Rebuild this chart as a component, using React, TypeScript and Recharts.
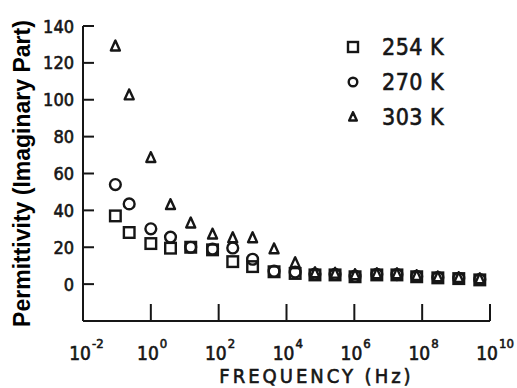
import { ScatterChart, Scatter, XAxis, YAxis, Legend } from 'recharts'

const frequency = [0.09, 0.23, 1, 3.8, 15, 66, 260, 1000, 4300, 18000, 69000, 2.7e5, 1.05e6, 4.6e6, 1.8e7, 6.9e7, 2.9e8, 1.2e9, 5e9]
// imaginary permittivity per temperature
const eps254 = [37, 28, 22, 19.5, 20, 18.6, 12.2, 9.5, 6.7, 5.8, 5, 5, 4, 5, 5, 4, 3.4, 3, 2.3]
const eps270 = [54, 43.5, 30, 25.5, 20, 19, 19.6, 13.5, 7, 6.5, 5.5, 5.3, 4.3, 5.3, 5.2, 4.2, 3.6, 3.2, 2.5]
const eps303 = [129, 102.5, 68.5, 43, 33, 27, 25, 25, 19, 11.5, 6, 5.8, 5, 5.5, 5.5, 4.5, 3.8, 3.4, 2.8]

const xTicks = [1e-2, 1, 1e2, 1e4, 1e6, 1e8, 1e10]
const yTicks = [0, 20, 40, 60, 80, 100, 120, 140]

const INK = '#161616'
const NUM_FONT = "'Liberation Sans Narrow', 'DejaVu Sans Condensed', 'Liberation Sans', sans-serif"

const toPoints = (vals: number[]) => frequency.map((f, i) => ({ x: f, y: vals[i] }))

const squareAt = (cx: number, cy: number, s = 5.3) => (
  <rect x={cx - s} y={cy - s} width={s * 2} height={s * 2} fill="none" stroke={INK} strokeWidth={2.4} />
)
const circleAt = (cx: number, cy: number, r = 5.4) => (
  <circle cx={cx} cy={cy} r={r} fill="none" stroke={INK} strokeWidth={2.4} />
)
const triangleAt = (cx: number, cy: number, s = 1) => (
  <polygon
    points={`${cx},${cy - 5.7 * s} ${cx - 4.5 * s},${cy + 4.2 * s} ${cx + 4.5 * s},${cy + 4.2 * s}`}
    fill="none"
    stroke={INK}
    strokeWidth={2.4}
    strokeLinejoin="round"
  />
)

const series = [
  { name: '254 K', data: toPoints(eps254), icon: (x: number, y: number) => squareAt(x, y, 5) },
  { name: '270 K', data: toPoints(eps270), icon: (x: number, y: number) => circleAt(x, y, 4.3) },
  { name: '303 K', data: toPoints(eps303), icon: (x: number, y: number) => triangleAt(x, y, 0.85) },
]

const heavy = { stroke: INK, strokeWidth: 0.6 }

const XTick = (props: any) => {
  const { x, y, payload } = props
  const exp = Math.round(Math.log10(payload.value))
  return (
    <g>
      <line x1={x} x2={x} y1={y} y2={y - 17} stroke={INK} strokeWidth={2} />
      <text x={x + 8} y={y + 39} textAnchor="end" fontSize={19} fontFamily={NUM_FONT} fill={INK} {...heavy}>10</text>
      <text x={x + 9} y={y + 27} fontSize={13} fontFamily={NUM_FONT} fill={INK} {...heavy}>{exp}</text>
    </g>
  )
}

const YTick = (props: any) => {
  const { x, y, payload } = props
  return (
    <g>
      <line x1={x} x2={x + 11} y1={y} y2={y} stroke={INK} strokeWidth={2} />
      <text x={x - 9} y={y + 6.5} textAnchor="end" fontSize={18} fontFamily={NUM_FONT} fill={INK} {...heavy}>{payload.value}</text>
    </g>
  )
}

const XLabel = (props: any) => {
  const { x, y, width } = props.viewBox
  return (
    <text x={x + width / 2 + 30} y={y + 62} textAnchor="middle" fontSize={20} letterSpacing={3} fontFamily={NUM_FONT} fill={INK} {...heavy}>
      FREQUENCY (Hz)
    </text>
  )
}

const YLabel = (props: any) => {
  const { x, y, height } = props.viewBox
  const cx = x + 29.5
  const cy = y + height / 2
  return (
    <text x={cx} y={cy} transform={`rotate(-90 ${cx} ${cy})`} textAnchor="middle" fontSize={23} fontWeight="bold" fontFamily="'Liberation Sans', Arial, sans-serif" fill="#000">
      Permittivity (Imaginary Part)
    </text>
  )
}

const LegendBox = () => (
  <div style={{ fontFamily: NUM_FONT, fontSize: 23, color: INK, letterSpacing: 0.5, WebkitTextStroke: `0.6px ${INK}` }}>
    {series.map((s) => (
      <div key={s.name} style={{ display: 'flex', alignItems: 'center', height: 35 }}>
        <svg width={16} height={16}>{s.icon(8, 8)}</svg>
        <span style={{ marginLeft: 21 }}>{s.name}</span>
      </div>
    ))}
  </div>
)

const axisLine = { stroke: INK, strokeWidth: 2 }

export default function App() {
  return (
    <div style={{ position: 'absolute', left: 0, top: 0, width: 517, height: 388, background: '#fff' }}>
      <ScatterChart width={517} height={388} margin={{ top: 26, right: 27, bottom: 0, left: 0 }}>
        <XAxis
          dataKey="x"
          type="number"
          scale="log"
          domain={[0.01, 1e10]}
          ticks={xTicks}
          interval={0}
          tick={<XTick />}
          tickLine={false}
          tickSize={0}
          tickMargin={0}
          height={67}
          axisLine={axisLine}
          allowDataOverflow
          label={XLabel}
        />
        <YAxis
          dataKey="y"
          type="number"
          domain={[-20, 140]}
          ticks={yTicks}
          interval={0}
          tick={<YTick />}
          tickLine={false}
          tickSize={0}
          tickMargin={0}
          width={83}
          axisLine={axisLine}
          allowDataOverflow
          label={YLabel}
        />
        <XAxis xAxisId="top" orientation="top" type="number" domain={[0, 1]} tick={false} tickLine={false} height={0} axisLine={axisLine} />
        <YAxis yAxisId="right" orientation="right" type="number" domain={[0, 1]} tick={false} tickLine={false} width={0} axisLine={axisLine} />
        <Legend
          layout="vertical"
          align="center"
          verticalAlign="middle"
          content={LegendBox}
          wrapperStyle={{ left: 345, top: 29.5, width: 'auto' }}
        />
        <Scatter name={series[0].name} data={series[0].data} isAnimationActive={false} shape={(p: any) => squareAt(p.cx, p.cy)} />
        <Scatter name={series[1].name} data={series[1].data} isAnimationActive={false} shape={(p: any) => circleAt(p.cx, p.cy)} />
        <Scatter name={series[2].name} data={series[2].data} isAnimationActive={false} shape={(p: any) => triangleAt(p.cx, p.cy)} />
      </ScatterChart>
    </div>
  )
}
